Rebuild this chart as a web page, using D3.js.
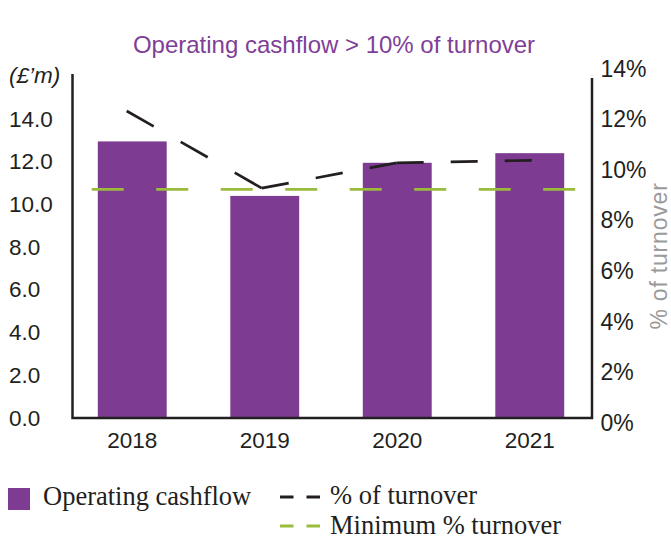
<!DOCTYPE html>
<html>
<head>
<meta charset="utf-8">
<script src="https://cdn.jsdelivr.net/npm/d3@7"></script>
<style>
  html, body { margin: 0; padding: 0; background: #fff; }
  svg { display: block; }
</style>
</head>
<body>
<svg id="chart" width="671" height="539"></svg>
<script>
// Years shown along the bottom axis
const years = ["2018", "2019", "2020", "2021"];
// Operating cashflow, £m (bars, left axis)
const cashflow = [12.9, 10.35, 11.9, 12.35];
// Operating cashflow as % of turnover (black dashed line, right axis)
const pctTurnover = [12.3, 9.25, 10.25, 10.35];
// Minimum % of turnover (green dashed reference line, right axis)
const minimumPct = 9.2;
// Axis tick labels
const leftTicks = [0, 2, 4, 6, 8, 10, 12, 14];
const rightTicks = [0, 2, 4, 6, 8, 10, 12, 14];

const purple = "#7d3c92";
const green = "#9bbb3c";
const ink = "#231f20";

const svg = d3.select("#chart");
const sans = "'Liberation Sans', Arial, Helvetica, sans-serif";
const serif = "'Liberation Serif', 'Times New Roman', serif";

// Plot frame
const frame = { left: 72.5, right: 592, bottom: 418, topLeft: 74, topRight: 78 };

const x = d3.scaleBand().domain(years).range([66, 596]).paddingInner(0.48).paddingOuter(0.24);
const xLine = d3.scalePoint().domain(years).range([126.7, 531.7]);
const yL = d3.scaleLinear().domain([0, 16]).range([417, 75.2]);
const yR = d3.scaleLinear().domain([0, 14]).range([422, 68]);

// Title
svg.append("text")
  .attr("x", 334).attr("y", 52.5)
  .attr("text-anchor", "middle")
  .attr("font-family", sans).attr("font-size", 24)
  .attr("fill", "#7f3f98")
  .text("Operating cashflow > 10% of turnover");

// Left unit label
svg.append("text")
  .attr("x", 9).attr("y", 83)
  .attr("font-family", sans).attr("font-size", 22.5)
  .attr("font-style", "italic")
  .attr("fill", ink)
  .text("(£’m)");

// Bars
svg.append("g").selectAll("rect")
  .data(years.map((y, i) => ({ year: y, value: cashflow[i] })))
  .join("rect")
  .attr("x", d => x(d.year))
  .attr("width", x.bandwidth())
  .attr("y", d => yL(d.value))
  .attr("height", d => yL(0) - yL(d.value))
  .attr("fill", purple);

// Minimum % reference line
svg.append("line")
  .attr("x1", frame.left + 19.2).attr("x2", frame.right - 16.7)
  .attr("y1", yR(minimumPct)).attr("y2", yR(minimumPct))
  .attr("stroke", green).attr("stroke-width", 2.8)
  .attr("stroke-dasharray", "32 32.5");

// % of turnover line, each segment split into dash-gap-dash-gap-dash
const pts = years.map((y, i) => [xLine(y), yR(pctTurnover[i])]);
const segs = d3.pairs(pts);
svg.append("g").selectAll("line")
  .data(segs)
  .join("line")
  .attr("x1", d => d[0][0]).attr("y1", d => d[0][1])
  .attr("x2", d => d[1][0]).attr("y2", d => d[1][1])
  .attr("stroke", ink).attr("stroke-width", 2.7)
  .attr("stroke-dasharray", d => {
    const L = Math.hypot(d[1][0] - d[0][0], d[1][1] - d[0][1]) / 5;
    return `${L} ${L}`;
  });

// Axis lines
const axisG = svg.append("g").attr("stroke", ink).attr("stroke-width", 2.5).attr("fill", "none");
axisG.append("path")
  .attr("d", `M${frame.left},${frame.topLeft}V${frame.bottom}H${frame.right}V${frame.topRight}`)
  .attr("stroke-linejoin", "miter");

// Left axis labels
const leftAxis = svg.append("g")
  .call(d3.axisLeft(yL).tickValues(leftTicks).tickFormat(d3.format(".1f")).tickSize(0));
leftAxis.select(".domain").remove();
leftAxis.selectAll("text")
  .attr("x", 9).attr("dy", "0.36em")
  .attr("text-anchor", "start")
  .attr("font-family", sans).attr("font-size", 22.5)
  .attr("fill", ink);

// Right axis labels
const rightAxis = svg.append("g")
  .call(d3.axisRight(yR).tickValues(rightTicks).tickFormat(d => d + "%").tickSize(0));
rightAxis.select(".domain").remove();
rightAxis.selectAll("text")
  .attr("x", 600.5).attr("dy", "0.36em")
  .attr("text-anchor", "start")
  .attr("font-family", sans).attr("font-size", 23)
  .attr("fill", ink);

// Right axis title
svg.append("text")
  .attr("transform", "translate(667,256) rotate(-90)")
  .attr("text-anchor", "middle")
  .attr("font-family", sans).attr("font-size", 23)
  .attr("fill", "#9a9a9a")
  .attr("letter-spacing", 0.8)
  .text("% of turnover");

// Year labels
const xAxis = svg.append("g")
  .attr("transform", `translate(0,${frame.bottom})`)
  .call(d3.axisBottom(x).tickSize(0));
xAxis.select(".domain").remove();
xAxis.selectAll("text")
  .attr("y", 29.5).attr("dy", 0)
  .attr("font-family", sans).attr("font-size", 22.5)
  .attr("fill", ink);

// Legend
const legend = svg.append("g").attr("font-family", serif).attr("font-size", 26.5).attr("fill", ink);
legend.append("rect").attr("x", 8).attr("y", 488).attr("width", 22).attr("height", 22).attr("fill", purple);
legend.append("text").attr("x", 43).attr("y", 505).text("Operating cashflow");
legend.append("line")
  .attr("x1", 280).attr("x2", 320).attr("y1", 497).attr("y2", 497)
  .attr("stroke", ink).attr("stroke-width", 2.8).attr("stroke-dasharray", "13.5 13");
legend.append("text").attr("x", 330).attr("y", 504).text("% of turnover");
legend.append("line")
  .attr("x1", 280).attr("x2", 320).attr("y1", 526).attr("y2", 526)
  .attr("stroke", green).attr("stroke-width", 2.8).attr("stroke-dasharray", "13.5 13");
legend.append("text").attr("x", 330).attr("y", 533.5).text("Minimum % turnover");
</script>
</body>
</html>
